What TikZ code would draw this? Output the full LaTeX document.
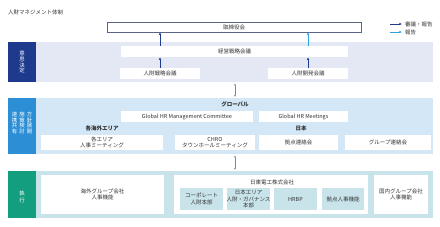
\documentclass[tikz,border=0pt]{standalone}
\usepackage{fontspec}
\setmainfont{Noto Sans CJK JP}
\usetikzlibrary{arrows.meta}
\definecolor{navy}{HTML}{1E3A8C}
\definecolor{bandA}{HTML}{E4E7F4}
\definecolor{labB}{HTML}{2C8FD5}
\definecolor{bandB}{HTML}{D3E7F6}
\definecolor{bandC}{HTML}{C8E4EA}
\definecolor{labC}{HTML}{139F7F}
\definecolor{lblue}{HTML}{2BA3DF}
\definecolor{garrow}{HTML}{7F8794}
\definecolor{txt}{HTML}{333333}
\definecolor{bord}{HTML}{5A6585}
\newcommand\myfs{\fontsize{5.5pt}{6.4pt}\selectfont}
\newcommand\myvs{\fontsize{5.4pt}{5.8pt}\selectfont}
\tikzset{
  box/.style={fill=white, inner sep=0pt, text=txt, font=\myfs, align=center},
  subbox/.style={fill=bandC, inner sep=0pt, text=txt, font=\myfs, align=center},
  band/.style={inner sep=0pt, anchor=north west},
  lab/.style={text=white, font=\myvs, align=center, inner sep=0pt},
  heading/.style={text=txt, font=\myfs\bfseries, inner sep=0pt},
  plain/.style={text=txt, font=\myfs, inner sep=0pt},
  navyarrow/.style={navy, line width=0.7pt, -{Latex[length=2.6pt,width=2.4pt]}},
  bluearrow/.style={lblue, line width=0.7pt, -{Latex[length=2.6pt,width=2.4pt]}},
  dblarrow/.style={garrow, line width=0.4pt, {Latex[length=2pt,width=1.8pt]}-{Latex[length=2pt,width=1.8pt]}},
}
\begin{document}
\begin{tikzpicture}[x=1pt,y=-1pt]
\useasboundingbox (0,0) rectangle (440,226);
% title
\node[plain, anchor=west] (title) at (8,12) {人財マネジメント体制};
% legend
\coordinate (la1) at (390,24); \coordinate (lb1) at (402,24);
\coordinate (la2) at (390,32); \coordinate (lb2) at (402,32);
\draw[navyarrow] (la1) -- (lb1);
\draw[bluearrow] (la2) -- (lb2);
\node[plain, anchor=west] (leg1) at (405,24) {審議・報告};
\node[plain, anchor=west] (leg2) at (405,32) {報告};
% board
\node[box, draw=bord, line width=0.6pt, minimum width=254pt, minimum height=10pt] (board) at (234,27) {取締役会};
% bands
\node[band, fill=bandA, minimum width=425pt, minimum height=40pt] (band1) at (8,42) {};
\node[band, fill=navy, minimum width=28pt, minimum height=40pt] (lab1) at (8,42) {};
\node[band, fill=bandB, minimum width=425pt, minimum height=56pt] (band2) at (8,98) {};
\node[band, fill=labB, minimum width=28pt, minimum height=56pt] (lab2) at (8,98) {};
\node[band, fill=bandC, minimum width=425pt, minimum height=47pt] (band3) at (8,171) {};
\node[band, fill=labC, minimum width=28pt, minimum height=47pt] (lab3) at (8,171) {};
% vertical labels
\node[lab] (v1) at (lab1.center) {意\\思\\決\\定};
\node[lab] (v2a) at (29.5,123) {方\\針\\展\\開};
\node[lab] (v2b) at (22,123) {施\\策\\検\\討};
\node[lab] (v2c) at (14.5,123) {連\\携\\共\\有};
\node[lab, font=\fontsize{5.4pt}{7pt}\selectfont] (v3) at (22,197) {執\\行};
% band 1
\node[box, minimum width=227pt, minimum height=11pt] (keiei) at (234.5,51.5) {経営戦略会議};
\node[box, minimum width=80pt, minimum height=11pt] (senryaku) at (160,73.5) {人財戦略会議};
\node[box, minimum width=80pt, minimum height=11pt] (kaihatsu) at (308,73.5) {人財開発会議};
% band 2
\node[heading] (global) at (235,104) {グローバル};
\node[box, minimum width=132pt, minimum height=11pt] (ghmc) at (187,116.5) {Global HR Management Committee};
\node[box, minimum width=89pt, minimum height=11pt] (ghrm) at (303.5,116.5) {Global HR Meetings};
\node[heading] (kaigaiarea) at (102,128) {各海外エリア};
\node[heading] (nihon) at (301,128) {日本};
\node[box, minimum width=122pt, minimum height=15pt] (area) at (102,142.5) {各エリア\\人事ミーティング};
\node[box, minimum width=80pt, minimum height=15pt] (chro) at (215,142.5) {CHRO\\タウンホールミーティング};
\node[box, minimum width=79pt, minimum height=15pt] (kyoten) at (298.5,142.5) {拠点連絡会};
\node[box, minimum width=86pt, minimum height=15pt] (group) at (388,142.5) {グループ連絡会};
% band 3
\node[box, minimum width=123pt, minimum height=39pt] (kaigai) at (102.5,194.5) {海外グループ会社\\人事機能};
\node[box, minimum width=194pt, minimum height=39pt] (nitto) at (271,194.5) {};
\node[box, minimum width=54pt, minimum height=39pt] (kokunai) at (401,194.5) {国内グループ会社\\人事機能};
\node[plain] (nittolabel) at (272,182) {日東電工株式会社};
\node[subbox, minimum width=43pt, minimum height=22pt] (corp) at (201.5,199) {コーポレート\\人財本部};
\node[subbox, minimum width=43pt, minimum height=22pt] (japan) at (248.5,199) {日本エリア\\人財・ガバナンス\\本部};
\node[subbox, minimum width=43pt, minimum height=22pt] (hrbp) at (295.5,199) {HRBP};
\node[subbox, minimum width=42pt, minimum height=22pt] (kjinji) at (343,199) {拠点人事機能};
% arrows
\draw[navyarrow] (senryaku.north) -- (keiei.south -| senryaku);
\draw[navyarrow] (kaihatsu.north) -- (keiei.south -| kaihatsu);
\draw[navyarrow] (keiei.north -| senryaku) -- (board.south -| senryaku);
\draw[bluearrow] (keiei.north -| kaihatsu) -- (board.south -| kaihatsu);
\draw[dblarrow] ([yshift=-1pt]band1.south -| global) -- ([yshift=1pt]band2.north -| global);
\draw[dblarrow] ([yshift=-1pt]band2.south -| global) -- ([yshift=1pt]band3.north -| global);
\end{tikzpicture}
\end{document}
